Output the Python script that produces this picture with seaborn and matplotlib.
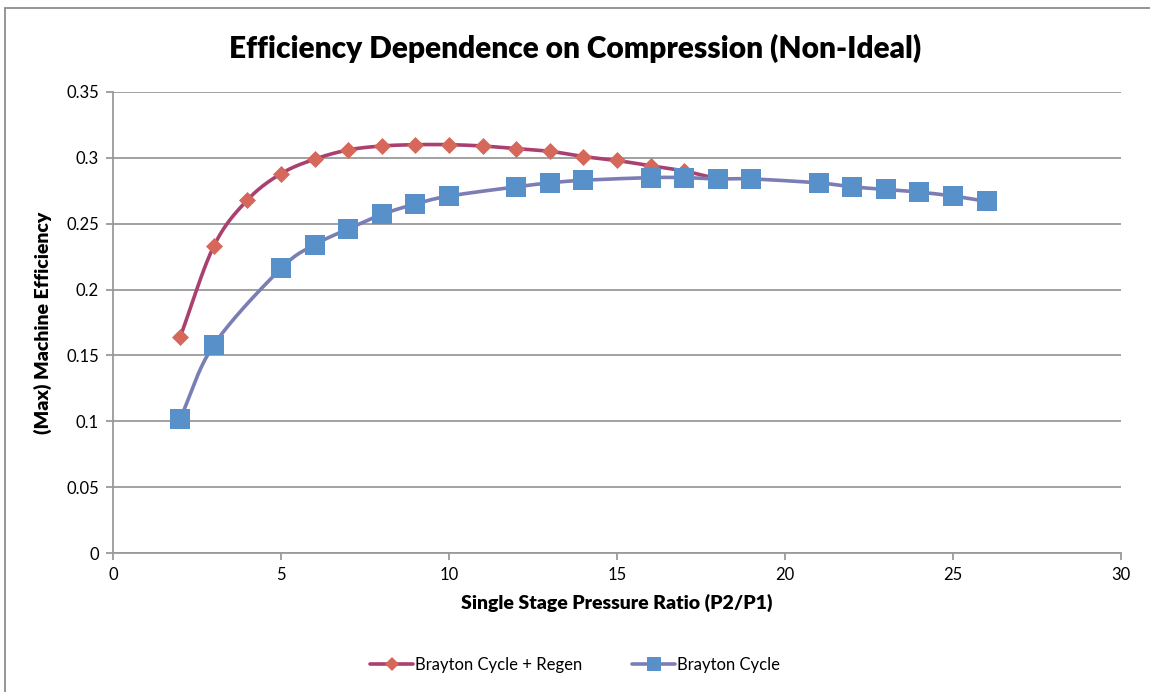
import numpy as np
import pandas as pd
import matplotlib
matplotlib.use("Agg")
import matplotlib.pyplot as plt
import seaborn as sns
from matplotlib.patches import Rectangle

# ─── Data ────────────────────────────────────────────────────────────────────
regen_ratio = [2, 3, 4, 5, 6, 7, 8, 9, 10, 11, 12, 13, 14, 15, 16, 17, 18]
regen_eff = [0.164, 0.233, 0.268, 0.288, 0.299, 0.306, 0.309, 0.310, 0.310,
             0.309, 0.307, 0.305, 0.301, 0.298, 0.294, 0.290, 0.284]

brayton_ratio = [2, 3, 5, 6, 7, 8, 9, 10, 12, 13, 14, 16, 17, 18, 19,
                 21, 22, 23, 24, 25, 26]
brayton_eff = [0.102, 0.158, 0.216, 0.234, 0.246, 0.257, 0.265, 0.271,
               0.278, 0.281, 0.283, 0.285, 0.285, 0.284, 0.284,
               0.281, 0.278, 0.276, 0.274, 0.271, 0.267]

# regen markers stop at 17 (last point only joins the line)
regen_marker_n = 16

TITLE  = "Efficiency Dependence on Compression (Non-Ideal)"
XLABEL = "Single Stage Pressure Ratio (P2/P1)"
YLABEL = "(Max) Machine Efficiency"
LABELS = ["Brayton Cycle + Regen", "Brayton Cycle"]

# ─── Style ───────────────────────────────────────────────────────────────────
REGEN_LINE, REGEN_MARK = "#AA4070", "#D5685A"
BRAY_LINE,  BRAY_MARK  = "#7B7DB5", "#5890C9"
GRID = "#9A9A9A"

sns.set_theme(style="white")
plt.rcParams["font.family"] = ["Lato", "DejaVu Sans"]
plt.rcParams["text.color"] = "black"
plt.rcParams["axes.labelcolor"] = "black"


def smooth(x, y, n=20):
    # catmull-rom, roughly what Excel does for "smoothed line"
    x = np.asarray(x, float)
    y = np.asarray(y, float)
    px = np.concatenate([[2 * x[0] - x[1]], x, [2 * x[-1] - x[-2]]])
    py = np.concatenate([[2 * y[0] - y[1]], y, [2 * y[-1] - y[-2]]])
    xs, ys = [], []
    t = np.linspace(0, 1, n, endpoint=False)
    for i in range(1, len(px) - 2):
        for p, out in ((px, xs), (py, ys)):
            p0, p1, p2, p3 = p[i - 1], p[i], p[i + 1], p[i + 2]
            out.extend(0.5 * (2 * p1 + (-p0 + p2) * t
                              + (2 * p0 - 5 * p1 + 4 * p2 - p3) * t ** 2
                              + (-p0 + 3 * p1 - 3 * p2 + p3) * t ** 3))
    xs.append(x[-1])
    ys.append(y[-1])
    return np.array(xs), np.array(ys)


fig = plt.figure(figsize=(11.5, 6.92), dpi=100)
ax = fig.add_axes([113 / 1150, 1 - 553 / 692, 1008 / 1150, 461 / 692])

# outer chart border
fig.patches.append(Rectangle((5 / 1150, -0.01), 1.1, 1 - 8 / 692 + 0.01,
                             transform=fig.transFigure, fill=False,
                             edgecolor="#8C8C8C", linewidth=1.3))

sx, sy = smooth(regen_ratio, regen_eff)
sns.lineplot(x=sx, y=sy, ax=ax, color=REGEN_LINE, linewidth=2.6,
             sort=False, estimator=None)
sx, sy = smooth(brayton_ratio, brayton_eff)
sns.lineplot(x=sx, y=sy, ax=ax, color=BRAY_LINE, linewidth=2.6,
             sort=False, estimator=None)

sns.scatterplot(x=regen_ratio[:regen_marker_n], y=regen_eff[:regen_marker_n],
                ax=ax, marker="D", s=75, color=REGEN_MARK, linewidth=0,
                zorder=4)
sns.scatterplot(x=brayton_ratio, y=brayton_eff, ax=ax, marker="s", s=190,
                color=BRAY_MARK, linewidth=0, zorder=5)

ax.set_xlim(0, 30)
ax.set_ylim(0, 0.35)
ax.set_xticks(np.arange(0, 31, 5))
ax.set_xticklabels([f"{v:g}" for v in np.arange(0, 31, 5)])
yt = np.round(np.arange(0, 0.351, 0.05), 2)
ax.set_yticks(yt)
ax.set_yticklabels([f"{v:g}" for v in yt])
ax.tick_params(axis="both", labelsize=12, colors=GRID, labelcolor="black",
               length=5, width=1.3, direction="out", pad=5)
ax.tick_params(axis="x", bottom=True)
ax.tick_params(axis="y", left=True)

ax.yaxis.grid(True, color=GRID, linewidth=1.3)
ax.set_axisbelow(True)
for side in ("top", "right"):
    ax.spines[side].set_visible(False)
for side in ("left", "bottom"):
    ax.spines[side].set_color(GRID)
    ax.spines[side].set_linewidth(1.3)

ax.set_xlabel(XLABEL, fontsize=14, fontweight="heavy", labelpad=8)
ax.set_ylabel(YLABEL, fontsize=14, fontweight="heavy", labelpad=10)
fig.text(0.5, 1 - 48 / 692, TITLE, ha="center", va="center",
         fontsize=21.5, fontweight="heavy")

handles = [
    plt.Line2D([], [], color=REGEN_LINE, linewidth=2.6, marker="D",
               markersize=7, markerfacecolor=REGEN_MARK, markeredgewidth=0),
    plt.Line2D([], [], color=BRAY_LINE, linewidth=2.6, marker="s",
               markersize=10, markerfacecolor=BRAY_MARK, markeredgewidth=0),
]
fig.legend(handles, LABELS, loc="center", bbox_to_anchor=(0.5, 1 - 665 / 692),
           ncol=2, frameon=False, fontsize=12, handlelength=2.6,
           handletextpad=0.1, columnspacing=3)

fig.savefig("out.png", dpi=100)
